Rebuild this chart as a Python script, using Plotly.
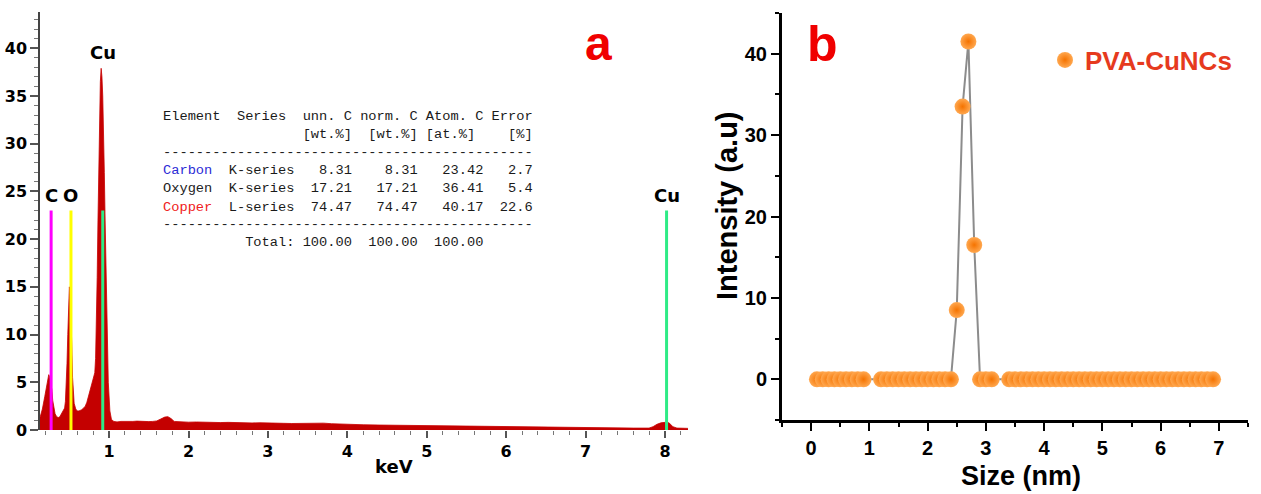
import plotly.graph_objects as go

# ---------------- data: panel a (EDS spectrum) ----------------
spec_kev = [0.13, 0.16, 0.19, 0.21, 0.23, 0.24, 0.25, 0.26, 0.28, 0.29, 0.31, 0.32,
            0.34, 0.36, 0.38, 0.40, 0.42, 0.44, 0.45, 0.46, 0.47, 0.48, 0.49, 0.50,
            0.51, 0.52, 0.53, 0.54, 0.56, 0.58, 0.60, 0.62, 0.65, 0.68, 0.70, 0.72,
            0.74, 0.76, 0.78, 0.80, 0.82, 0.83, 0.84, 0.85, 0.86, 0.87, 0.88, 0.89,
            0.90, 0.91, 0.92, 0.93, 0.94, 0.95, 0.96, 0.97, 0.98, 0.99, 1.01, 1.03,
            1.06, 1.10, 1.15, 1.20, 1.25, 1.30, 1.35, 1.40,
            1.45, 1.50, 1.55, 1.60, 1.65, 1.70, 1.74, 1.78, 1.82, 1.90, 2.00, 2.10,
            2.20, 2.30, 2.40, 2.50, 2.60, 2.70, 2.80, 2.90, 3.00, 3.10, 3.20, 3.30,
            3.40, 3.50, 3.60, 3.70, 3.80, 3.90, 4.00, 4.20, 4.40, 4.60, 4.80, 5.00,
            5.20, 5.40, 5.60, 5.80, 6.00, 6.20, 6.40, 6.60, 6.80, 7.00, 7.20, 7.40,
            7.60, 7.80, 7.85, 7.90, 7.95, 8.00, 8.05, 8.10, 8.15, 8.25, 8.29]
spec_counts = [1.3, 2.2, 3.5, 4.5, 5.5, 5.8, 5.6, 5.2, 4.2, 3.1, 2.2, 1.7,
               1.4, 1.3, 1.4, 1.7, 2.0, 2.3, 3.0, 4.5, 7.0, 10.0, 13.0, 15.0,
               14.0, 12.0, 9.0, 5.5, 2.8, 2.2, 2.0, 2.0, 2.1, 2.3, 2.5, 2.9,
               3.5, 4.3, 4.9, 5.5, 6.0, 7.5, 11.0, 16.0, 22.0, 28.0, 33.0, 36.5,
               37.9, 37.0, 35.0, 32.0, 27.0, 22.0, 17.0, 12.0, 8.0, 5.0, 2.0, 1.1,
               0.9, 0.85, 0.9, 0.88, 0.92, 0.9, 0.93, 0.9,
               0.92, 0.88, 0.9, 0.95, 1.15, 1.35, 1.4, 1.2, 0.9, 0.85, 0.82, 0.84,
               0.8, 0.82, 0.78, 0.8, 0.76, 0.78, 0.74, 0.76, 0.72, 0.74, 0.7, 0.68,
               0.7, 0.66, 0.7, 0.72, 0.66, 0.62, 0.6, 0.55, 0.52, 0.5, 0.46, 0.42,
               0.4, 0.38, 0.36, 0.34, 0.3, 0.29, 0.28, 0.27, 0.25, 0.22, 0.22, 0.21,
               0.2, 0.2, 0.35, 0.6, 0.75, 0.8, 0.75, 0.35, 0.2, 0.18, 0.17]

elem_names = ["C", "O", "Cu", "Cu"]
elem_kev = [0.27, 0.52, 0.92, 8.02]
elem_marker_h = [23, 23, 23, 23]
elem_colors = ["#FF00FF", "#FFFF00", "#2EEB86", "#2EEB86"]

table_elements = ["Carbon", "Oxygen", "Copper"]
table_series = ["K-series", "K-series", "L-series"]
table_unn = [8.31, 17.21, 74.47]
table_norm = [8.31, 17.21, 74.47]
table_atom = [23.42, 36.41, 40.17]
table_err = [2.7, 5.4, 22.6]
table_totals = [100.00, 100.00, 100.00]
table_colors = ["#2B2BD6", "#222222", "#F02020"]

# ---------------- data: panel b (size distribution) ----------------
size_nm = [0.1, 0.2, 0.3, 0.4, 0.5, 0.6, 0.7, 0.8, 0.9,
           1.2, 1.3, 1.4, 1.5, 1.6, 1.7, 1.8, 1.9, 2.0, 2.1, 2.2, 2.3, 2.4,
           2.5, 2.6, 2.7, 2.8,
           2.9, 3.0, 3.1,
           3.4, 3.5, 3.6, 3.7, 3.8, 3.9, 4.0, 4.1, 4.2, 4.3, 4.4, 4.5, 4.6, 4.7,
           4.8, 4.9, 5.0, 5.1, 5.2, 5.3, 5.4, 5.5, 5.6, 5.7, 5.8, 5.9, 6.0, 6.1,
           6.2, 6.3, 6.4, 6.5, 6.6, 6.7, 6.8, 6.9]
intensity = [0, 0, 0, 0, 0, 0, 0, 0, 0,
             0, 0, 0, 0, 0, 0, 0, 0, 0, 0, 0, 0, 0,
             8.5, 33.5, 41.5, 16.5,
             0, 0, 0,
             0, 0, 0, 0, 0, 0, 0, 0, 0, 0, 0, 0, 0, 0,
             0, 0, 0, 0, 0, 0, 0, 0, 0, 0, 0, 0, 0, 0,
             0, 0, 0, 0, 0, 0, 0, 0, 0, 0]

W, H = 1261, 494
def px(x): return x / W
def py(y): return 1 - y / H

fig = go.Figure()

# spectrum
fig.add_trace(go.Scatter(x=spec_kev, y=spec_counts, mode="lines", fill="tozeroy",
                         line=dict(color="#C80000", width=0.8), fillcolor="#C40000",
                         showlegend=False, xaxis="x", yaxis="y"))
# element marker lines
for e, h, c in zip(elem_kev, elem_marker_h, elem_colors):
    fig.add_trace(go.Scatter(x=[e, e], y=[0, h], mode="lines", line=dict(color=c, width=3),
                             showlegend=False, xaxis="x", yaxis="y"))

# size distribution
fig.add_trace(go.Scatter(x=size_nm, y=intensity, mode="lines", line=dict(color="#8C8C8C", width=2),
                         showlegend=False, xaxis="x2", yaxis="y2"))
fig.add_trace(go.Scatter(x=size_nm, y=intensity, mode="markers", name="PVA-CuNCs",
                         marker=dict(size=16, color="#FFA850",
                                     gradient=dict(type="radial", color="#F57300"),
                                     line=dict(width=0)),
                         xaxis="x2", yaxis="y2"))

lfont = dict(family="DejaVu Sans", size=16, color="black", weight="bold")
rfont = dict(family="Liberation Sans", size=20, color="black", weight="bold")

annotations = []
# element labels
for i, (n, e) in enumerate(zip(elem_names, elem_kev)):
    ytop = max(spec_counts) if i == 2 else elem_marker_h[i]
    annotations.append(dict(x=e, y=ytop, xref="x", yref="y", text=n, showarrow=False,
                            yanchor="bottom", yshift=3,
                            font=dict(family="DejaVu Sans", size=18, color="black", weight="bold")))

# table
def nb(s):
    return s.replace(" ", "\u00a0")

tbl_lines = []
tbl_lines.append((nb(f"{'Element':<9}{'Series':<8}{'unn. C':>6} {'norm. C':>7} {'Atom. C':>7} {'Error':>5}"), 116))
tbl_lines.append((nb(f"{'':<17}{'[wt.%]':<8}{'[wt.%]':<7}{'[at.%]':<10}{'[%]'}"), 134))
tbl_lines.append(("-" * 45, 152))
rows_y = [170, 188, 207]
for el, se, a, b, c, d, col, yy in zip(table_elements, table_series, table_unn, table_norm,
                                       table_atom, table_err, table_colors, rows_y):
    rest = nb(f"{se:<8}{a:>7.2f}{b:>8.2f}{c:>8.2f}{d:>6.1f}")
    txt = f"<span style='color:{col}'>{nb(f'{el:<8}')}</span>{rest}"
    tbl_lines.append((txt, yy))
tbl_lines.append(("-" * 45, 224))
tbl_lines.append((nb(f"{'Total:':>16}{table_totals[0]:>7.2f}{table_totals[1]:>8.2f}{table_totals[2]:>8.2f}"), 242))
for t, yy in tbl_lines:
    annotations.append(dict(x=px(161), y=py(yy), xref="paper", yref="paper", text=t,
                            showarrow=False, xanchor="left", yanchor="middle",
                            font=dict(family="Liberation Mono", size=13.7, color="#1A1A1A")))

# panel letters
annotations.append(dict(x=px(598), y=py(44), xref="paper", yref="paper", text="a", showarrow=False,
                        xanchor="center", yanchor="middle",
                        font=dict(family="Liberation Sans", size=48, color="#F00000", weight="bold")))
annotations.append(dict(x=px(822), y=py(44), xref="paper", yref="paper", text="b", showarrow=False,
                        xanchor="center", yanchor="middle",
                        font=dict(family="Liberation Sans", size=50, color="#F00000", weight="bold")))
# axis titles
annotations.append(dict(x=px(394), y=py(466), xref="paper", yref="paper", text="keV", showarrow=False,
                        xanchor="center", yanchor="middle",
                        font=dict(family="DejaVu Sans", size=18, color="black", weight="bold")))
annotations.append(dict(x=px(727), y=py(205), xref="paper", yref="paper", text="Intensity (a.u)",
                        showarrow=False, textangle=-90, xanchor="center", yanchor="middle",
                        font=dict(family="Liberation Sans", size=29, color="black", weight="bold")))
annotations.append(dict(x=px(1021), y=py(476), xref="paper", yref="paper", text="Size (nm)",
                        showarrow=False, xanchor="center", yanchor="middle",
                        font=dict(family="Liberation Sans", size=27, color="black", weight="bold")))

fig.update_layout(
    width=W, height=H, margin=dict(l=0, r=0, t=0, b=0, autoexpand=False),
    paper_bgcolor="white", plot_bgcolor="white",
    xaxis=dict(domain=[px(40), px(688)], range=[0.13, 8.29], dtick=1, tick0=0, automargin=False,
               showgrid=False, zeroline=False, showline=False,
               ticks="outside", ticklen=7, tickwidth=1.5, tickcolor="#555555",
               minor=dict(dtick=0.2, tick0=0, ticks="outside", ticklen=4, tickwidth=1, tickcolor="#777777"),
               tickfont=lfont, anchor="y"),
    yaxis=dict(domain=[py(430), py(12)], range=[0, 43.8], dtick=5, tick0=0, automargin=False,
               showgrid=False, zeroline=False, showline=True, linecolor="#444444", linewidth=1.5,
               ticks="outside", ticklen=8, tickwidth=1.5, tickcolor="#555555",
               minor=dict(dtick=1, tick0=0, ticks="outside", ticklen=4, tickwidth=1, tickcolor="#777777"),
               tickfont=lfont, anchor="x"),
    xaxis2=dict(domain=[px(782), px(1248)], range=[-0.5, 7.5], dtick=1, tick0=0, automargin=False,
                showgrid=False, zeroline=False, showline=True, linecolor="black", linewidth=3,
                ticks="outside", ticklen=8, tickwidth=2, tickcolor="black",
                minor=dict(dtick=0.5, tick0=0, ticks="outside", ticklen=4, tickwidth=2, tickcolor="black"),
                tickfont=rfont, anchor="y2"),
    yaxis2=dict(domain=[py(420), py(13)], range=[-5, 45], dtick=10, tick0=0, automargin=False,
                showgrid=False, zeroline=False, showline=True, linecolor="black", linewidth=3,
                ticks="outside", ticklen=8, tickwidth=2, tickcolor="black",
                minor=dict(dtick=5, tick0=0, ticks="outside", ticklen=4, tickwidth=2, tickcolor="black"),
                tickfont=rfont, anchor="x2"),
    legend=dict(x=px(1045), y=py(60), xanchor="left", yanchor="middle", bgcolor="rgba(0,0,0,0)",
                font=dict(family="Liberation Sans", size=26, color="#E63A1E", weight="bold")),
    annotations=annotations,
)

fig.write_html("out.html", config={"displayModeBar": False},
               post_script="document.body.style.margin='0';document.body.style.overflow='hidden';")
